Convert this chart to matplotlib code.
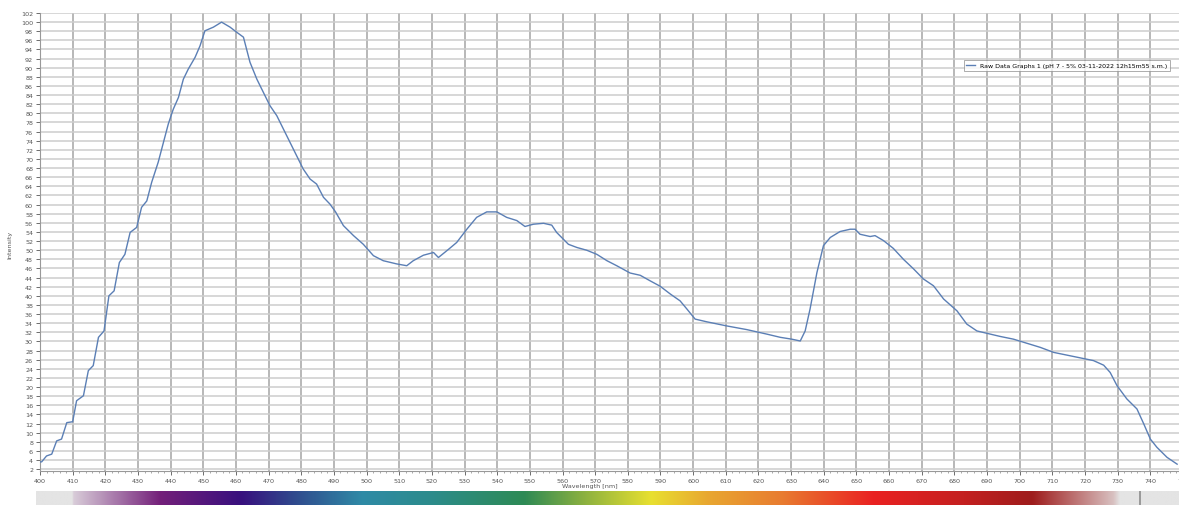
import numpy as np
import matplotlib.pyplot as plt
from matplotlib.colors import to_rgb

# spectrum (wavelength nm, intensity)
wavelength = [400.0, 400.5, 402.0, 403.6, 405.1, 406.6, 408.2, 410.0, 411.2, 413.3,
              414.8, 416.3, 417.9, 419.6, 421.1, 422.7, 424.3, 426.0, 427.6, 429.6,
              431.1, 432.7, 434.2, 436.2, 437.8, 439.3, 440.8, 442.4, 443.9, 445.4,
              447.5, 449.0, 450.5, 453.1, 455.6, 458.2, 460.2, 462.3, 464.3, 466.4,
              468.4, 470.4, 472.5, 474.5, 476.6, 478.6, 480.6, 482.7, 484.7, 486.8,
              488.8, 490.5, 492.9, 496.0, 499.0, 502.1, 505.1, 509.2, 512.3, 514.3,
              517.4, 520.5, 522.0, 525.1, 527.6, 530.7, 533.7, 536.8, 539.9, 542.9,
              546.0, 548.5, 551.1, 554.2, 556.7, 558.2, 560.3, 561.8, 564.4, 567.4,
              570.5, 573.6, 576.6, 580.7, 583.8, 586.8, 589.9, 593.0, 596.0, 598.1,
              600.6, 604.2, 610.3, 616.4, 622.6, 626.7, 630.2, 632.8, 634.3, 635.8,
              637.9, 639.9, 642.0, 645.0, 648.1, 649.6, 651.1, 654.2, 655.7, 658.3,
              661.3, 664.4, 667.5, 670.5, 673.6, 676.7, 680.8, 683.8, 686.9, 689.9,
              694.0, 698.1, 702.2, 706.3, 710.4, 714.5, 718.5, 722.6, 725.7, 727.7,
              729.8, 732.8, 735.9, 738.0, 740.0, 742.0, 745.1, 748.2]
intensity = [3.6, 3.6, 4.9, 5.3, 8.2, 8.6, 12.2, 12.4, 17.0, 18.1,
             23.6, 24.7, 30.9, 32.3, 40.0, 41.1, 47.3, 49.1, 53.9, 55.0,
             59.4, 60.8, 64.9, 69.3, 73.6, 77.7, 80.9, 83.5, 87.5, 89.7,
             92.3, 94.8, 98.1, 98.9, 100.0, 98.9, 97.8, 96.7, 91.2, 87.5,
             84.6, 81.7, 79.5, 76.6, 73.6, 70.7, 67.8, 65.6, 64.5, 61.6,
             60.1, 58.4, 55.4, 53.2, 51.3, 48.8, 47.7, 47.0, 46.6, 47.7,
             48.9, 49.5, 48.4, 50.2, 51.7, 54.6, 57.2, 58.4, 58.4, 57.2,
             56.5, 55.2, 55.7, 55.9, 55.5, 53.9, 52.4, 51.3, 50.6, 50.0,
             49.1, 47.7, 46.6, 45.0, 44.5, 43.3, 42.1, 40.4, 38.9, 37.1,
             34.9, 34.3, 33.4, 32.6, 31.6, 30.9, 30.5, 30.1, 32.3, 37.1,
             45.1, 51.0, 52.8, 54.1, 54.6, 54.6, 53.5, 53.0, 53.2, 52.1,
             50.4, 48.0, 45.9, 43.7, 42.2, 39.3, 36.7, 33.8, 32.3, 31.8,
             31.1, 30.5, 29.6, 28.7, 27.6, 27.0, 26.4, 25.8, 24.8, 23.2,
             20.3, 17.4, 15.2, 11.9, 8.6, 6.8, 4.6, 3.1]

legend_label = "Raw Data Graphs 1 (pH 7 - 5% 03-11-2022 12h15m55 s.m.)"

# colour stops of the rainbow strip under the plot
strip_nm = [399, 410, 410.5, 437, 462, 479, 499, 520, 549, 567,
            588, 605, 628, 656, 684, 705, 730, 732, 750]
strip_col = ["#e4e4e4", "#e4e4e4", "#d8ccd8", "#74207a", "#38107e", "#2f4c8e",
             "#2f8aa6", "#2c8c8c", "#2e8a55", "#8ab040", "#e8e030", "#e8a830",
             "#e87c30", "#ea2222", "#c42020", "#9e1c1c", "#d8c0c0", "#e4e4e4",
             "#e4e4e4"]


def spectrum_strip(ax):
    grid = np.linspace(strip_nm[0], strip_nm[-1], 1200)
    rgb = np.array([to_rgb(c) for c in strip_col])
    img = np.stack([np.interp(grid, strip_nm, rgb[:, k]) for k in range(3)], axis=-1)
    ax.imshow(img[np.newaxis, :, :], aspect="auto",
              extent=(strip_nm[0], strip_nm[-1], 0, 1))
    ax.axvline(738, color="#8c8c8c", lw=1.2)
    ax.set_xlim(strip_nm[0], strip_nm[-1])
    ax.axis("off")


def plot_all():
    W, H = 1179, 506
    fig = plt.figure(figsize=(W / 100, H / 100), dpi=100)
    fig.patch.set_facecolor("white")

    ax = fig.add_axes([40 / W, 34 / H, 1143 / W, 458 / H])
    ax.plot(wavelength, intensity, color="#5b7fb5", lw=1.0, label=legend_label,
            zorder=3)

    ax.set_xlim(400, 750)
    ax.set_ylim(1.6, 102)
    ax.set_xticks(np.arange(400, 751, 10))
    ax.set_xticks(np.arange(400, 751, 2), minor=True)
    ax.set_yticks(np.arange(2, 103, 2))
    ax.tick_params(axis="both", which="major", labelsize=4.6, colors="#555555",
                   length=3, width=0.6, pad=2)
    ax.tick_params(axis="x", which="minor", length=1.5, width=0.5, colors="#888888")
    ax.grid(axis="y", which="major", color="#cdcdcd", lw=1.1, zorder=0)
    ax.grid(axis="x", which="major", color="#b8b8b8", lw=1.4, zorder=0)
    for side in ["top", "right"]:
        ax.spines[side].set_visible(False)
    for side in ["left", "bottom"]:
        ax.spines[side].set_color("#999999")
        ax.spines[side].set_linewidth(0.8)

    # legend kept small enough to stay inside the figure
    leg = ax.legend(loc="upper left", bbox_to_anchor=(0.808, 0.897), fontsize=4.5,
                    frameon=True, fancybox=False, handlelength=1.4,
                    borderpad=0.45, borderaxespad=0)
    leg.get_frame().set_edgecolor("#888888")
    leg.get_frame().set_linewidth(0.6)

    fig.text(590 / W, 1 - 487 / H, "Wavelength [nm]", fontsize=4.6,
             color="#555555", ha="center", va="center")
    fig.text(10 / W, 1 - 245 / H, "Intensity", fontsize=4.6, color="#555555",
             rotation=90, ha="center", va="center")

    sax = fig.add_axes([36 / W, 0, 1 - 36 / W, 14 / H])
    spectrum_strip(sax)

    fig.savefig("out.png", dpi=100)


if __name__ == "__main__":
    plot_all()
